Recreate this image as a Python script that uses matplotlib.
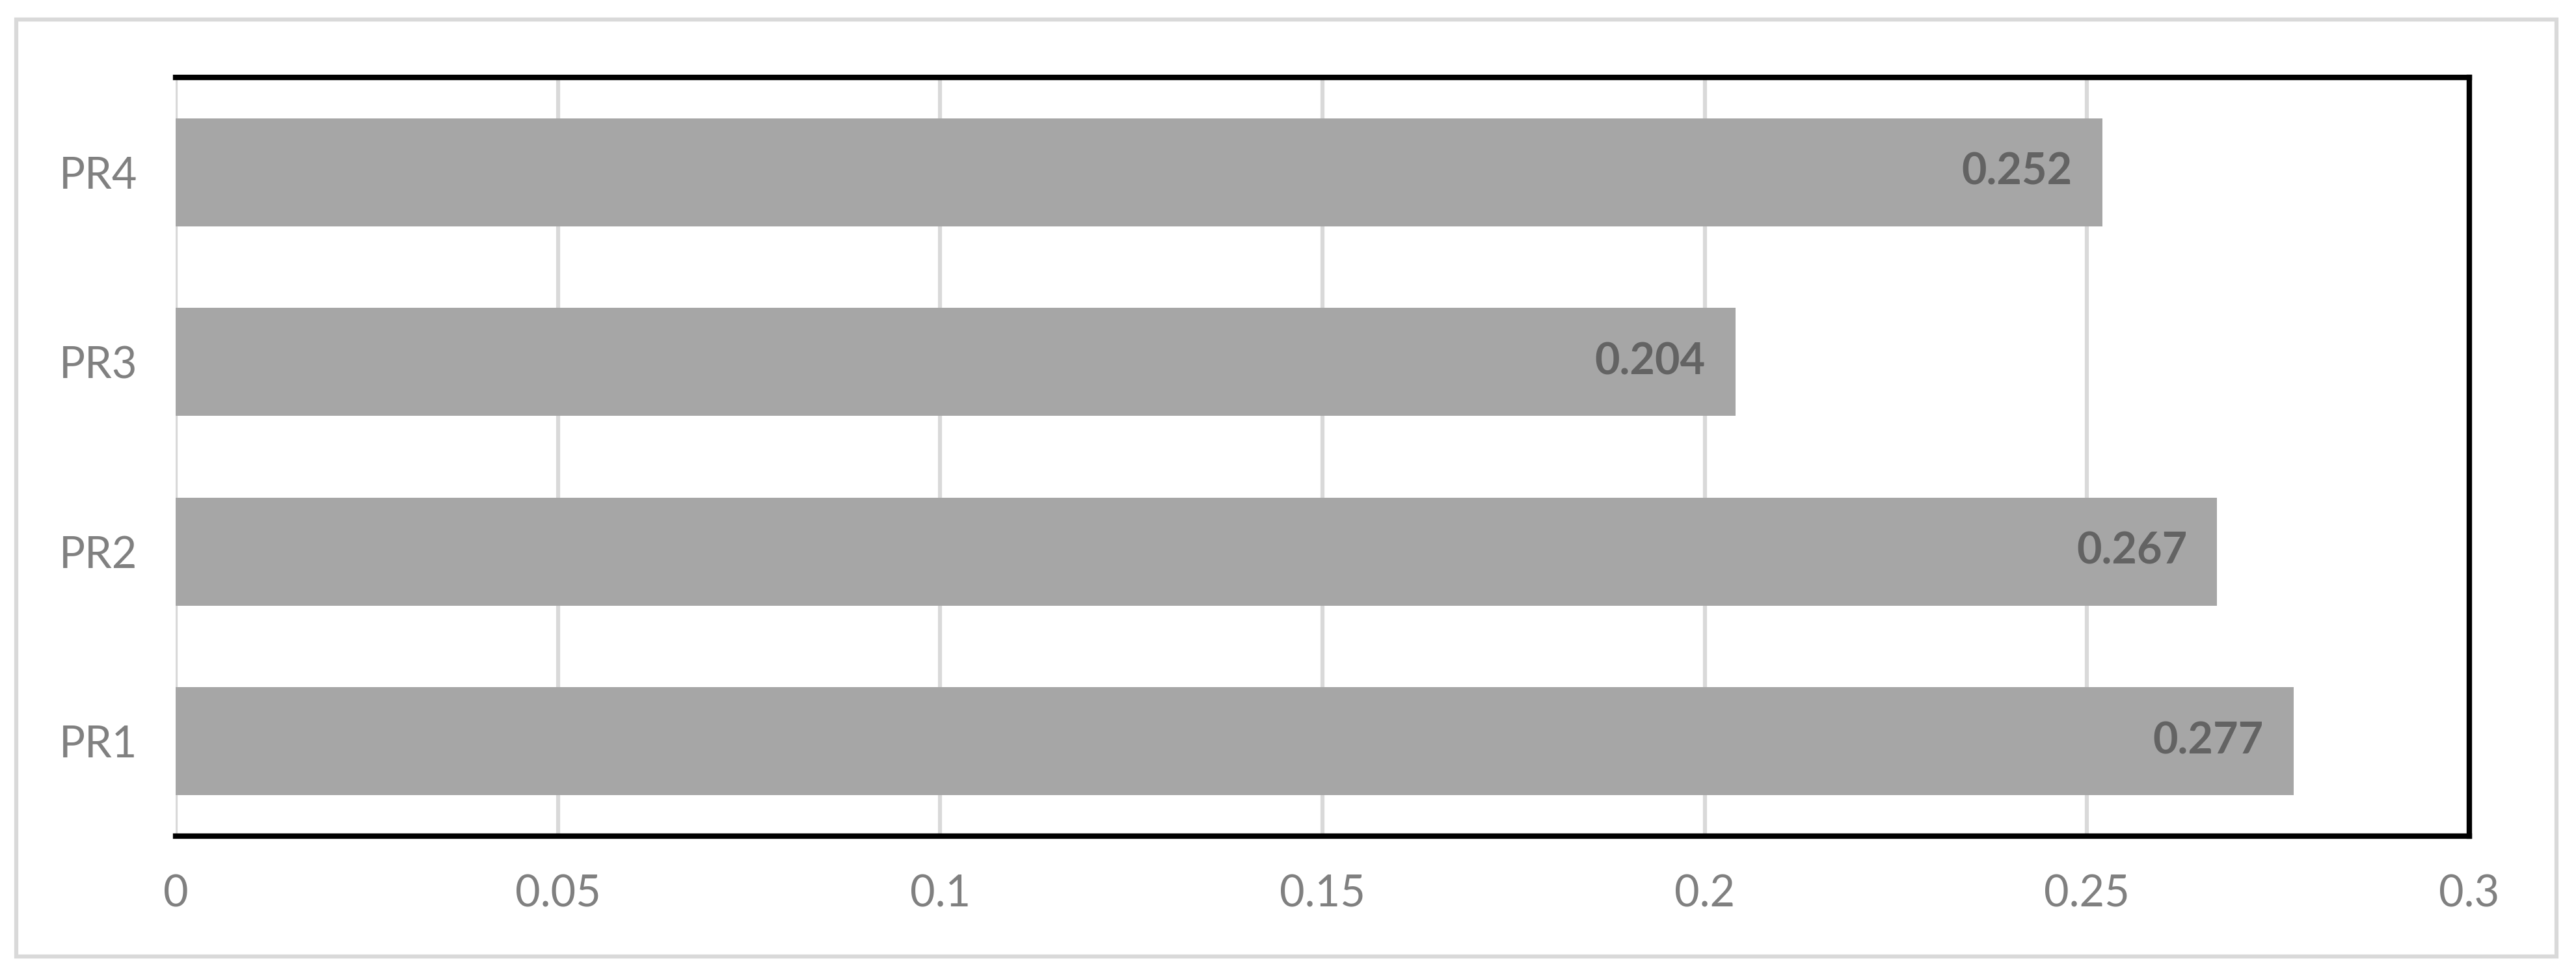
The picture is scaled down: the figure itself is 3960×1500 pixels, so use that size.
import matplotlib.pyplot as plt
from matplotlib.patches import Rectangle

# 数据
categories = ["PR1", "PR2", "PR3", "PR4"]
values = [0.277, 0.267, 0.204, 0.252]
value_labels = ["0.277", "0.267", "0.204", "0.252"]
x_ticks = [0, 0.05, 0.1, 0.15, 0.2, 0.25, 0.3]
x_tick_labels = ["0", "0.05", "0.1", "0.15", "0.2", "0.25", "0.3"]

plt.rcParams["font.family"] = ["Lato", "DejaVu Sans"]

fig = plt.figure(figsize=(13.2, 5), dpi=300)
ax = fig.add_axes([0.0682, 0.1433, 0.8904, 0.7774])

y = range(len(categories))
ax.barh(y, values, height=0.57, color="#a6a6a6", zorder=3)

for i, v in enumerate(values):
    ax.annotate(value_labels[i], (v, i), xytext=(-11, 0), textcoords="offset points",
                ha="right", va="center", fontsize=16, fontweight="bold",
                color="#636363", zorder=4)

ax.set_xlim(0, 0.3)
ax.set_ylim(-0.5, 3.5)
ax.set_xticks(x_ticks)
ax.set_xticklabels(x_tick_labels)
ax.set_yticks(list(y))
ax.set_yticklabels(categories)
ax.tick_params(axis="both", length=0, labelsize=16, labelcolor="#808080")
ax.tick_params(axis="x", pad=14)
ax.tick_params(axis="y", pad=14)

ax.grid(axis="x", color="#d9d9d9", linewidth=1.5, zorder=0)
ax.set_axisbelow(True)

for side in ["top", "right", "bottom"]:
    ax.spines[side].set_color("black")
    ax.spines[side].set_linewidth(2)
    ax.spines[side].set_zorder(5)
ax.spines["left"].set_visible(False)

# 外框
fig.patches.append(Rectangle((0.0063, 0.02), 0.9861, 0.96, transform=fig.transFigure,
                             fill=False, edgecolor="#d9d9d9", linewidth=1.5))

plt.savefig("out.png", dpi=300, facecolor="white")
